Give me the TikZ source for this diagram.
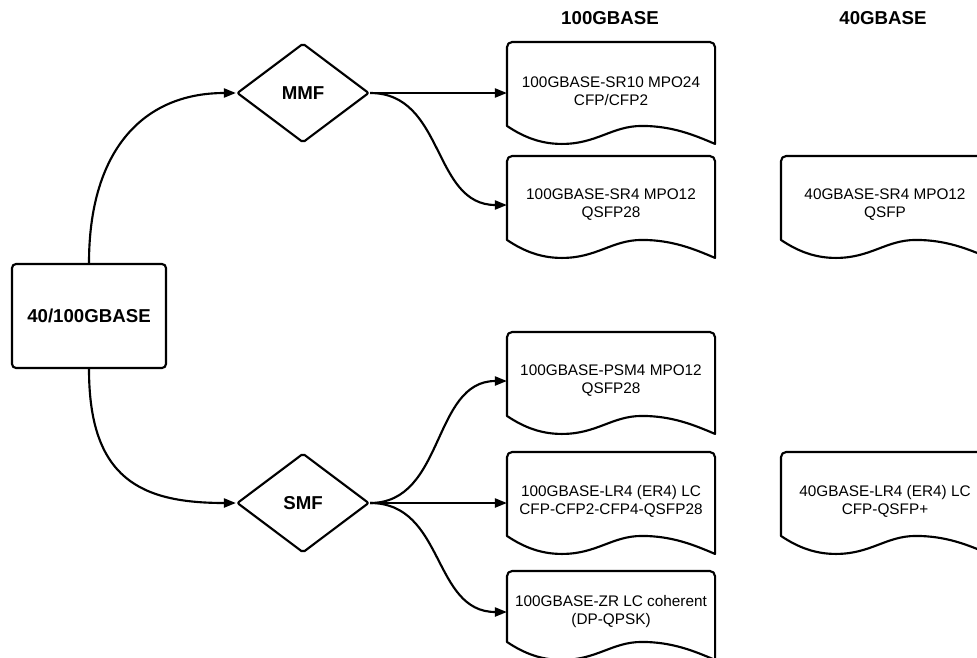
\documentclass[tikz,border=0pt]{standalone}
\usepackage{fontspec}
\setmainfont{Liberation Sans}
\usetikzlibrary{shapes.geometric,arrows.meta}

\tikzset{every picture/.style={line width=1.6pt},
  rootbox/.style={draw, rounded corners=3pt, minimum width=115.5pt, minimum height=78pt, inner sep=0pt, font=\bfseries\fontsize{14}{16}\selectfont},
  choice/.style={draw, diamond, aspect=1.33, minimum width=99pt, minimum height=74.5pt, inner sep=0pt, rounded corners=1.5pt, font=\bfseries\fontsize{14}{16}\selectfont},
  docbox/.style={minimum width=154.5pt, minimum height=72pt, inner sep=0pt, align=center, font=\fontsize{11.5}{13.5}\selectfont},
  heading/.style={font=\bfseries\fontsize{14}{16}\selectfont},
  docline/.style={line join=round},
  link/.style={-{Triangle[length=9pt,width=6.75pt]}}
}

\begin{document}
\begin{tikzpicture}[x=0.75pt,y=0.75pt,yscale=-1,xscale=1]

\clip (0,0) rectangle (977,657);

\node [heading] (h100) at (610,18) {100GBASE};
\node [heading] (h40) at (883,18) {40GBASE};

\node [rootbox] (main) at (89,316) {40/100GBASE};
\node [choice] (mmf) at (303,93) {MMF};
\node [choice] (smf) at (303,503) {SMF};

\node [docbox] (sr10) at (611,91) {100GBASE-SR10 MPO24\\CFP/CFP2};
\node [docbox] (sr4) at (611,205) {100GBASE-SR4 MPO12\\QSFP28};
\node [docbox] (psm4) at (611,381) {100GBASE-PSM4 MPO12\\QSFP28};
\node [docbox] (lr4) at (611,501) {100GBASE-LR4 (ER4) LC\\CFP-CFP2-CFP4-QSFP28};
\node [docbox, minimum height=60pt] (zr) at (611,612) {100GBASE-ZR LC coherent\\(DP-QPSK)};
\node [docbox] (fsr4) at (885,205) {40GBASE-SR4 MPO12\\QSFP};
\node [docbox] (flr4) at (885,501) {40GBASE-LR4 (ER4) LC\\CFP-QSFP+};

% document outlines
\foreach \n/\h in {sr10/84, sr4/84, psm4/84, lr4/84, zr/71, fsr4/84, flr4/84}
  \draw [docline] ([shift={(0,\h)}]\n.north west) [rounded corners=4] -- (\n.north west) -- (\n.north east) [sharp corners] -- ([shift={(0,\h+18)}]\n.north east)
    .. controls ([shift={(-21,\h+9)}]\n.north east) and ([shift={(165,\h)}]\n.north west) .. ([shift={(135,\h)}]\n.north west)
    .. controls ([shift={(105,\h)}]\n.north west) and ([shift={(90,\h+18)}]\n.north west) .. ([shift={(55,\h+18)}]\n.north west)
    .. controls ([shift={(35,\h+18)}]\n.north west) and ([shift={(18,\h+12)}]\n.north west) .. ([shift={(0,\h)}]\n.north west) -- cycle;

\draw [link] (main.north) .. controls +(0,-110) and +(-95,0) .. (mmf.west);
\draw [link] (main.south) .. controls +(0,110) and +(-95,0) .. (smf.west);

\draw [link] (mmf.east) -- (mmf.east -| sr10.west);
\draw [link] (mmf.east) .. controls +(75,0) and +(-75,0) .. (sr4.west);
\draw [link] (smf.east) .. controls +(75,0) and +(-75,0) .. (psm4.west);
\draw [link] (smf.east) -- (smf.east -| lr4.west);
\draw [link] (smf.east) .. controls +(75,0) and +(-75,0) .. (zr.west);

\end{tikzpicture}
\end{document}
